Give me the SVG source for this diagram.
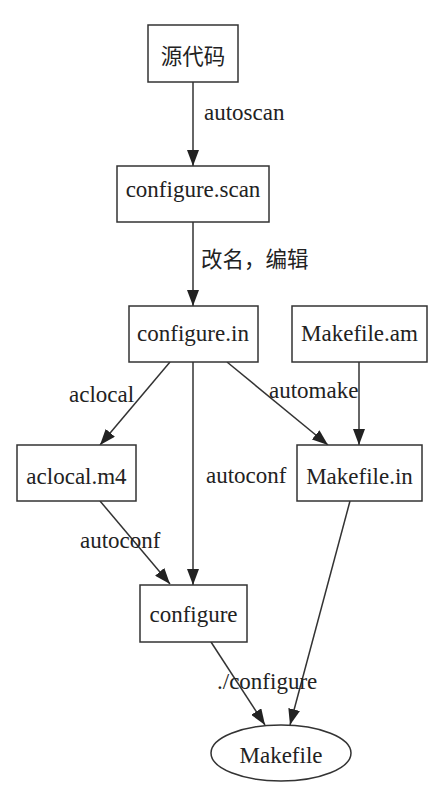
<svg xmlns="http://www.w3.org/2000/svg" width="441" height="792" viewBox="0 0 441 792">
<style>
.n{fill:#fff;stroke:#333;stroke-width:1.5}
.t{font-family:'Liberation Serif','Times New Roman',serif;font-size:23px;fill:#222;text-anchor:middle}
.l{font-family:'Liberation Serif','Times New Roman',serif;font-size:23px;fill:#222}
.c{font-family:'Noto Sans CJK SC',sans-serif;font-size:21.5px;fill:#222}
.e{stroke:#333;stroke-width:1.5;fill:none;marker-end:url(#a)}
</style>
<defs>
<marker id="a" markerUnits="userSpaceOnUse" markerWidth="16" markerHeight="12" refX="16" refY="6" orient="auto">
<path d="M0,0 L16,6 L0,12 Z" fill="#222"/>
</marker>
</defs>
<rect width="441" height="792" fill="#fff"/>
<g id="edges">
<line class="e" x1="193" y1="82" x2="193" y2="166"/>
<line class="e" x1="193" y1="222" x2="193" y2="306"/>
<line class="e" x1="170" y1="362" x2="100" y2="445"/>
<line class="e" x1="227" y1="362" x2="328" y2="445"/>
<line class="e" x1="359" y1="362" x2="359" y2="445"/>
<line class="e" x1="193" y1="362" x2="193" y2="585"/>
<line class="e" x1="100" y1="501" x2="170" y2="584"/>
<line class="e" x1="211" y1="642" x2="265" y2="725"/>
<line class="e" x1="350" y1="501" x2="290" y2="725"/>
<text class="l" x="204" y="120">autoscan</text>
<text class="c" x="201" y="267">改名，编辑</text>
<text class="l" x="69" y="402">aclocal</text>
<text class="l" x="269" y="398">automake</text>
<text class="l" x="206" y="483">autoconf</text>
<text class="l" x="80" y="548">autoconf</text>
<text class="l" x="217" y="689">./configure</text>
</g>
<g id="src"><rect class="n" x="148" y="25" width="90" height="57"/><text class="c" x="193" y="64" text-anchor="middle">源代码</text></g>
<g id="cscan"><rect class="n" x="117" y="166" width="152" height="56"/><text class="t" x="193" y="197">configure.scan</text></g>
<g id="cin"><rect class="n" x="129" y="306" width="129" height="56"/><text class="t" x="193" y="341">configure.in</text></g>
<g id="mam"><rect class="n" x="292" y="306" width="135" height="56"/><text class="t" x="359.5" y="341">Makefile.am</text></g>
<g id="m4"><rect class="n" x="17" y="445" width="119" height="56"/><text class="t" x="76.5" y="484">aclocal.m4</text></g>
<g id="min"><rect class="n" x="297" y="445" width="125" height="56"/><text class="t" x="359.5" y="484">Makefile.in</text></g>
<g id="conf"><rect class="n" x="140" y="585" width="107" height="57"/><text class="t" x="193.5" y="622">configure</text></g>
<g id="mk"><ellipse class="n" cx="281" cy="753" rx="70" ry="28"/><text class="t" x="281" y="763">Makefile</text></g>
</svg>
